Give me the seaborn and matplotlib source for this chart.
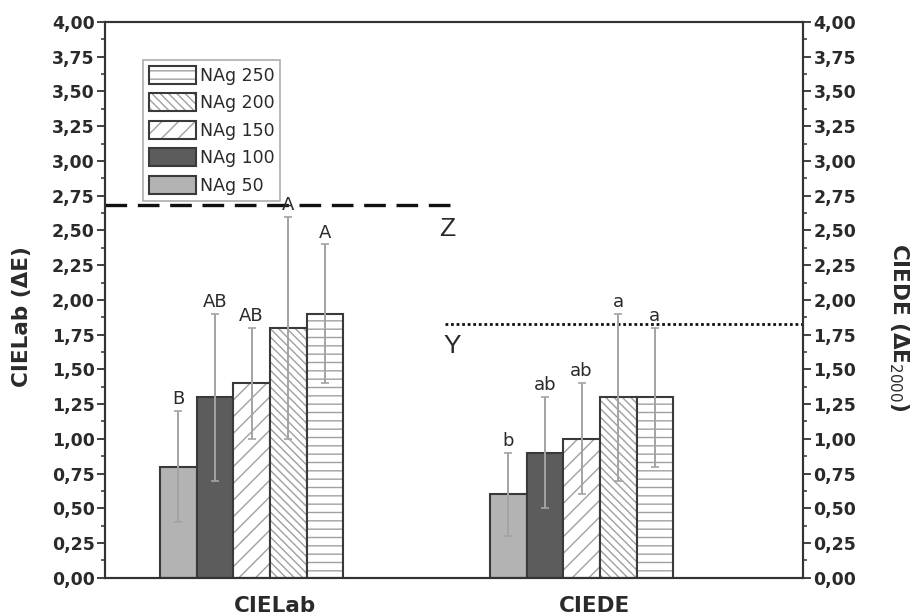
import numpy as np
import pandas as pd
import matplotlib
matplotlib.use("Agg")
import matplotlib.pyplot as plt
from matplotlib.colors import to_rgba
from matplotlib.ticker import MultipleLocator, FuncFormatter
import seaborn as sns

# -----------------------------------------------------
# DATA
# -----------------------------------------------------
metrics = ["CIELab", "CIEDE"]
groups = ["NAg 50", "NAg 100", "NAg 150", "NAg 200", "NAg 250"]

cielab_mean = [0.80, 1.30, 1.40, 1.80, 1.90]
cielab_sd = [0.40, 0.60, 0.40, 0.80, 0.50]
cielab_letters = ["B", "AB", "AB", "A", "A"]

ciede_mean = [0.60, 0.90, 1.00, 1.30, 1.30]
ciede_sd = [0.30, 0.40, 0.40, 0.60, 0.50]
ciede_letters = ["b", "ab", "ab", "a", "a"]

z_level = 2.68   # CIELab threshold
y_level = 1.83   # CIEDE threshold

# -----------------------------------------------------
# STYLE
# -----------------------------------------------------
sns.set_theme(style="ticks")
plt.rcParams["font.family"] = ["DejaVu Sans"]
plt.rcParams["hatch.linewidth"] = 1.0

bar_colors = ["#b3b3b3", "#5c5c5c", "white", "white", "white"]
hatches = [None, None, "//", "\\\\\\\\", "--"]
edge = "#3a3a3a"
hatch_gray = "#a0a0a0"
txt = "#2a2a2a"

df = pd.DataFrame({
    "metric": np.repeat(metrics, len(groups)),
    "group": groups * len(metrics),
    "value": cielab_mean + ciede_mean,
})

fig = plt.figure(figsize=(9.14, 6.16), dpi=100)
ax = fig.add_axes([0.115, 0.062, 0.7636, 0.9023])

sns.barplot(
    data=df, x="metric", y="value", hue="group",
    order=metrics, hue_order=groups,
    palette=bar_colors, width=0.555, errorbar=None,
    legend=False, saturation=1, ax=ax,
)

sds = [cielab_sd, ciede_sd]
means = [cielab_mean, ciede_mean]
letters = [cielab_letters, ciede_letters]

bar_conts = list(ax.containers)
for i, cont in enumerate(bar_conts):
    for j, patch in enumerate(cont):
        patch.set_edgecolor(edge)
        patch.set_linewidth(1.5)
        if hatches[i]:
            patch.set_hatch(hatches[i])
            # lighter hatch lines than the bar outline
            if hasattr(patch, "set_hatchcolor"):
                patch.set_hatchcolor(hatch_gray)
            else:
                patch._hatch_color = to_rgba(hatch_gray)
        xc = patch.get_x() + patch.get_width() / 2
        m = means[j][i]
        s = sds[j][i]
        ax.errorbar(xc, m, yerr=s, color="#a3a3a3", lw=1.4,
                    capsize=3, capthick=1.2, zorder=3)
        ax.annotate(letters[j][i], (xc, m + s), xytext=(0, 2),
                    textcoords="offset points", ha="center", va="bottom",
                    fontsize=13, color=txt)

# threshold lines
ax.axhline(z_level, xmin=0, xmax=0.494, color="#111111", lw=2.4,
           dashes=(6.5, 3.2))
ax.axhline(y_level, xmin=0.487, xmax=1.0, color="#111111", lw=2.0,
           linestyle=(0, (1, 1)))
ax.text(0.49, 2.51, "Z", transform=ax.get_yaxis_transform(),
        ha="center", va="center", fontsize=19, color=txt,
        family="Liberation Sans")
ax.text(0.497, 1.67, "Y", transform=ax.get_yaxis_transform(),
        ha="center", va="center", fontsize=19, color=txt,
        family="Liberation Sans")

# axes
ax.set_xlim(-0.444, 1.671)
ax.set_ylim(0, 4)
ax.set_xticks([0.07, 1.04], metrics)
ax.tick_params(axis="x", length=0, pad=13, labelsize=15.5,
               labelcolor=txt)
for lbl in ax.get_xticklabels():
    lbl.set_fontweight("bold")
ax.set_xlabel("")
ax.set_ylabel("")

fmt = FuncFormatter(lambda v, p: f"{v:.2f}".replace(".", ","))

ax2 = ax.twinx()
ax2.set_ylim(0, 4)
for a in (ax, ax2):
    a.yaxis.set_major_locator(MultipleLocator(0.25))
    a.yaxis.set_minor_locator(MultipleLocator(0.125))
    a.yaxis.set_major_formatter(fmt)
    a.tick_params(axis="y", which="major", direction="out", length=6,
                  width=1.3, color="#333333", labelsize=12.5, pad=1.5,
                  labelcolor=txt)
    a.tick_params(axis="y", which="minor", direction="out", length=3,
                  width=1.1, color="#333333")
    for lbl in a.get_yticklabels():
        lbl.set_fontweight("bold")
    for sp in a.spines.values():
        sp.set_visible(True)
        sp.set_color("#333333")
        sp.set_linewidth(1.5)

fig.text(22 / 914, 1 - 317 / 616, "CIELab (ΔE)", rotation=90,
         ha="center", va="center", fontsize=15.5, fontweight="bold",
         color=txt)
fig.text(899 / 914, 1 - 327 / 616, "CIEDE (ΔE$_{2000}$)", rotation=270,
         ha="center", va="center", fontsize=15.5, fontweight="bold",
         color=txt)

# legend (reverse order, top = NAg 250)
handles = [bar_conts[i][0] for i in range(len(groups))][::-1]
leg = ax.legend(handles, groups[::-1], loc="upper left",
                bbox_to_anchor=(0.0544, 0.9317), fontsize=12.5,
                frameon=True, fancybox=False, handlelength=2.7,
                handleheight=1.2, labelspacing=0.5, handletextpad=0.2,
                borderpad=0.35, borderaxespad=0)
leg.get_frame().set_edgecolor("#9a9a9a")
leg.get_frame().set_linewidth(1.2)
for t in leg.get_texts():
    t.set_color(txt)

fig.savefig("out.png", dpi=100)
